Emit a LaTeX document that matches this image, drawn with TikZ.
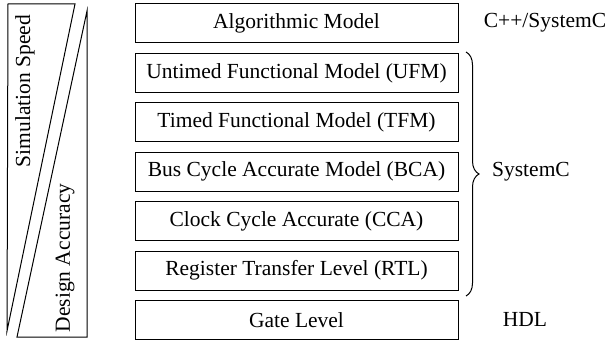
\documentclass[tikz,border=0pt]{standalone}
\usepackage{fontspec}
\setmainfont{Liberation Serif}
\usetikzlibrary{decorations.pathreplacing}
\begin{document}
\begin{tikzpicture}[x=1pt,y=-1pt,
  lvl/.style={draw, line width=1pt, minimum width=323pt, minimum height=39pt, inner sep=0pt, font=\fontsize{21.5}{24}\selectfont},
  lbl/.style={inner sep=0pt, font=\fontsize{21.5}{24}\selectfont},
  wedge/.style={draw, line width=1pt, line join=miter}]
\useasboundingbox (0,0) rectangle (615,342);
% left wedges
\draw[wedge] (8,4) -- (75,4) -- (7,331) -- cycle;
\draw[wedge] (87,11) -- (87,337) -- (17,337) -- cycle;
\node[lbl, rotate=90] (speed) at (25,91) {Simulation Speed};
\node[lbl, rotate=90] (acc) at (65,258) {Design Accuracy};
% level boxes
\node[lvl] (alg) at (296.5,23.5) {Algorithmic Model};
\node[lvl] (ufm) at (296.5,73) {Untimed Functional Model (UFM)};
\node[lvl] (tfm) at (296.5,122) {Timed Functional Model (TFM)};
\node[lvl] (bca) at (296.5,171.5) {Bus Cycle Accurate Model (BCA)};
\node[lvl] (cca) at (296.5,221) {Clock Cycle Accurate (CCA)};
\node[lvl] (rtl) at (296.5,270.5) {Register Transfer Level (RTL)};
\node[lvl] (gate) at (296.5,320) {Gate Level};
% right labels
\node[lbl] (cpp) at (545,23) {C++/SystemC};
\coordinate (bt) at (466,52);
\coordinate (bb) at (466,296);
\draw[line width=1pt, decorate, decoration={brace, amplitude=13pt}] (bt) -- (bb);
\node[lbl] (sysc) at (531,172) {SystemC};
\node[lbl] (hdl) at (525,319) {HDL};
\end{tikzpicture}
\end{document}
